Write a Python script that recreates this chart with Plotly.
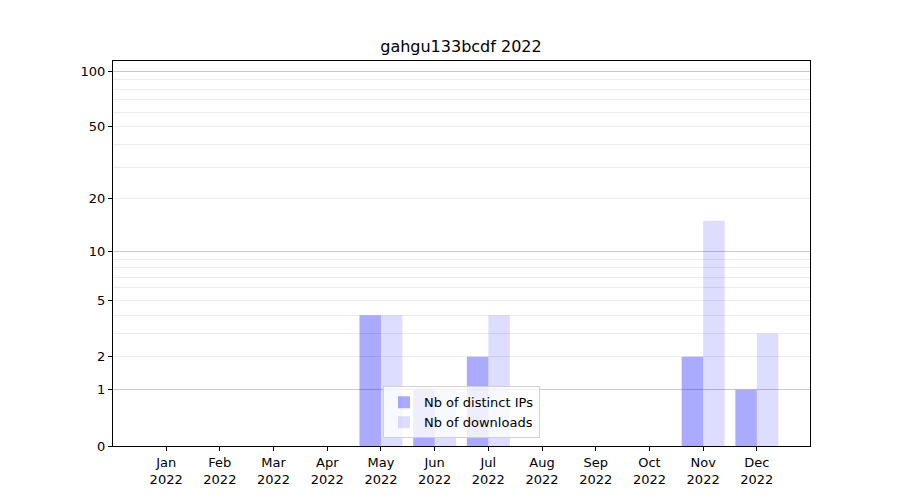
import math
import plotly.graph_objects as go

months = ["Jan", "Feb", "Mar", "Apr", "May", "Jun", "Jul", "Aug", "Sep", "Oct", "Nov", "Dec"]
year = "2022"
distinct_ips = [0, 0, 0, 0, 4, 1, 2, 0, 0, 0, 2, 1]
downloads = [0, 0, 0, 0, 4, 1, 4, 0, 0, 0, 15, 3]
tick_labels = [0, 1, 2, 5, 10, 20, 50, 100]
major_grid = [1, 10, 100]
minor_grid = [2, 3, 4, 5, 6, 7, 8, 9, 20, 30, 40, 50, 60, 70, 80, 90]
title = "gahgu133bcdf 2022"

x_labels = [f"{m}<br>{year}" for m in months]
xs = list(range(len(months)))

def shift(vals):
    # log(1 + y) scale
    return [v + 1 for v in vals]

font = dict(family="DejaVu Sans", size=13, color="black")

fig = go.Figure()
fig.add_trace(go.Bar(x=xs, y=shift(distinct_ips), name="Nb of distinct IPs",
                     marker=dict(color="rgba(0,0,255,0.333)", line=dict(width=0))))
fig.add_trace(go.Bar(x=xs, y=shift(downloads), name="Nb of downloads",
                     marker=dict(color="rgba(0,0,255,0.135)", line=dict(width=0))))
# helper so the overlay axis (major grid) gets rendered
fig.add_trace(go.Scatter(x=[None], y=[None], yaxis="y2", showlegend=False,
                         hoverinfo="skip", mode="markers"))

yrange = [0, 2.059]

fig.update_layout(
    width=900, height=500,
    paper_bgcolor="white", plot_bgcolor="white",
    margin=dict(l=105, r=98, t=53, b=62),
    font=font,
    title=dict(text=title, x=0.5033, xanchor="center", y=0.924, yanchor="middle",
               font=dict(family="DejaVu Sans", size=16, color="black")),
    barmode="group", bargap=0.2, bargroupgap=0,
    showlegend=True,
    legend=dict(x=0.5, xanchor="center", y=0.02, yanchor="bottom",
                bgcolor="rgba(255,255,255,0.8)", bordercolor="#d0d0d0", borderwidth=1,
                font=dict(family="DejaVu Sans", size=13), tracegroupgap=2,
                itemwidth=30),
    xaxis=dict(
        tickmode="array", tickvals=xs, ticktext=x_labels,
        range=[-0.99, len(months) - 0.01], automargin=False,
        showline=True, linecolor="black", linewidth=1, mirror=True,
        ticks="outside", ticklen=4, tickcolor="black",
        showgrid=False, zeroline=False,
    ),
    yaxis=dict(
        type="log", range=yrange, automargin=False,
        tickmode="array", tickvals=shift(tick_labels), ticktext=[str(t) for t in tick_labels],
        showline=True, linecolor="black", linewidth=1, mirror=True,
        ticks="outside", ticklen=4, tickcolor="black",
        showgrid=False, zeroline=False,
        minor=dict(tickmode="array", tickvals=shift(minor_grid), showgrid=True,
                   gridcolor="#ebebeb", gridwidth=1, ticks=""),
    ),
    yaxis2=dict(
        type="log", range=yrange, overlaying="y", side="left", automargin=False,
        tickmode="array", tickvals=shift(major_grid), showticklabels=False,
        ticks="", showgrid=True, gridcolor="#c8c8c8", gridwidth=1,
        showline=False, zeroline=False,
    ),
)

fig.write_html("out.html")
